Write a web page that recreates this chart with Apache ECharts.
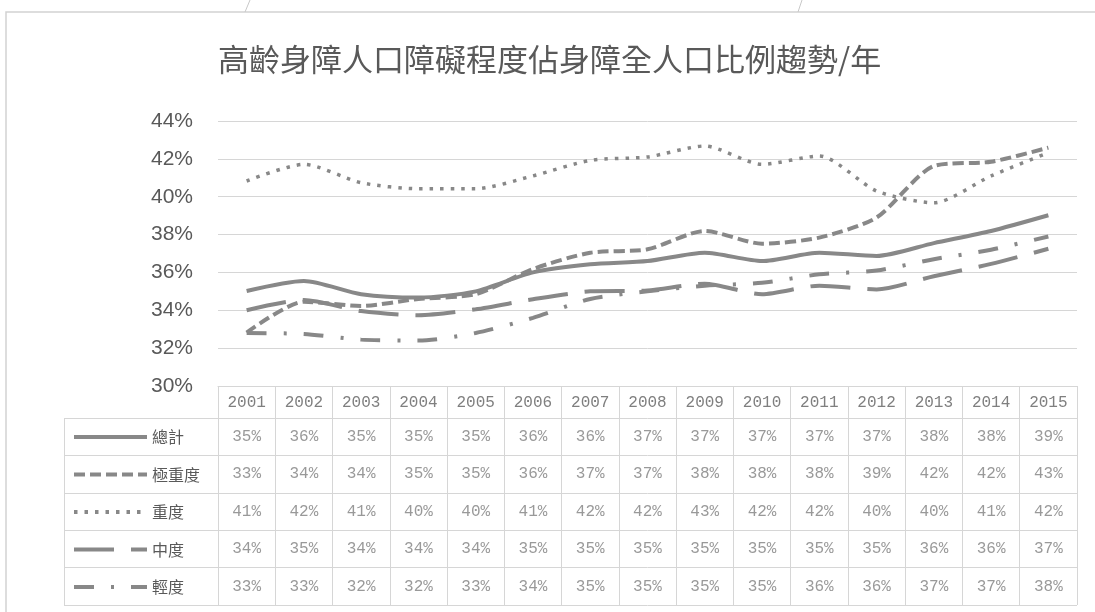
<!DOCTYPE html>
<html>
<head>
<meta charset="utf-8">
<script src="https://cdn.jsdelivr.net/npm/echarts@6/dist/echarts.min.js"></script>
<style>
  html, body { margin: 0; padding: 0; background: #fff; }
  #chart { width: 1095px; height: 612px; }
</style>
</head>
<body>
<div id="chart"></div>
<script>
// 年份 / 類別
var years = ['2001', '2002', '2003', '2004', '2005', '2006', '2007', '2008', '2009', '2010', '2011', '2012', '2013', '2014', '2015']
var seriesNames = ['總計', '極重度', '重度', '中度', '輕度']

// 各障礙程度比例 (%)
var totalData = [35.02, 35.55, 34.85, 34.67, 35.0, 36.0, 36.43, 36.6, 37.04, 36.6, 37.04, 36.87, 37.55, 38.19, 39.02]
var verySevereData = [32.82, 34.45, 34.23, 34.6, 34.85, 36.18, 37.04, 37.22, 38.19, 37.52, 37.84, 38.9, 41.62, 41.85, 42.59]
var severeData = [40.83, 41.71, 40.74, 40.42, 40.42, 41.1, 41.92, 42.1, 42.68, 41.71, 42.15, 40.3, 39.68, 41.1, 42.33]
var moderateData = [34.0, 34.55, 33.96, 33.74, 34.05, 34.58, 35.0, 35.05, 35.4, 34.85, 35.3, 35.1, 35.8, 36.45, 37.25]
var mildData = [32.8, 32.75, 32.45, 32.4, 32.8, 33.6, 34.6, 35.0, 35.3, 35.45, 35.9, 36.1, 36.7, 37.2, 37.9]

var allData = [totalData, verySevereData, severeData, moderateData, mildData]
// 線型: 實線 / 虛線 / 點線 / 長虛線 / 虛點線
var dashTypes = ['solid', [11, 5], [3.5, 7], [40, 17], [20, 17, 3, 17]]

var lineColor = '#888888'
var borderColor = '#d6d6d6'

var chart = echarts.init(document.getElementById('chart'))

// 表格文字
var tableCells = []
allData.forEach(function(arr, row) {
  arr.forEach(function(v, col) {
    tableCells.push([col, row, Math.round(v)])
  })
})

var lineSeries = allData.map(function(arr, i) {
  return {
    name: seriesNames[i],
    type: 'line',
    xAxisIndex: 0,
    yAxisIndex: 0,
    data: arr,
    symbol: 'none',
    smooth: 0.25,
    silent: true,
    lineStyle: {
      color: lineColor,
      width: i === 2 ? 3.5 : 4,
      type: dashTypes[i]
    },
    itemStyle: { color: lineColor }
  }
})

chart.setOption({
  backgroundColor: '#fff',
  animation: false,
  title: {
    text: '高齡身障人口障礙程度佔身障全人口比例趨勢/年',
    left: 218,
    top: 44,
    padding: 0,
    textStyle: {
      fontFamily: 'Noto Sans CJK TC',
      fontSize: 31,
      fontWeight: 'normal',
      color: '#595959'
    }
  },
  graphic: [
    {
      type: 'rect',
      shape: { x: 6, y: 12, width: 1200, height: 700 },
      style: { fill: 'none', stroke: '#d2d2d2', lineWidth: 1.5 },
      silent: true
    },
    {
      type: 'line',
      shape: { x1: 250, y1: 0, x2: 245, y2: 12 },
      style: { stroke: '#c8c8c8', lineWidth: 1 },
      silent: true
    },
    {
      type: 'line',
      shape: { x1: 802, y1: 0, x2: 798, y2: 12 },
      style: { stroke: '#c8c8c8', lineWidth: 1 },
      silent: true
    }
  ],
  legend: {
    orient: 'vertical',
    left: 72,
    top: 429,
    padding: 0,
    itemWidth: 73,
    itemHeight: 16,
    itemGap: 21.5,
    selectedMode: false,
    data: seriesNames,
    itemStyle: { color: 'transparent', borderWidth: 0, opacity: 0 },
    lineStyle: { width: 4 },
    textStyle: {
      fontFamily: 'Noto Sans CJK TC',
      fontSize: 16,
      lineHeight: 16,
      color: '#595959'
    }
  },
  grid: [
    { left: 218, right: 18, top: 121, height: 265 }, // 折線圖
    { left: 218, right: 18, top: 386, height: 32 },  // 表頭(年份)
    { left: 218, right: 18, top: 418, height: 187 }, // 表格內容
    { left: 64, width: 154, top: 418, height: 187 }   // 圖例欄
  ],
  xAxis: [
    {
      gridIndex: 0,
      type: 'category',
      data: years,
      boundaryGap: true,
      axisLine: { show: true, lineStyle: { color: borderColor, width: 1 } },
      axisTick: { show: false },
      axisLabel: { show: false },
      splitLine: { show: false }
    },
    {
      gridIndex: 1,
      type: 'category',
      data: years,
      boundaryGap: true,
      axisLine: { show: false },
      axisTick: { show: false },
      axisLabel: {
        inside: true,
        margin: 7,
        interval: 0,
        fontFamily: 'Liberation Mono',
        fontSize: 16,
        color: '#7f7f7f'
      },
      splitLine: { show: true, interval: 0, lineStyle: { color: borderColor, width: 1 } }
    },
    {
      gridIndex: 2,
      type: 'category',
      data: years,
      boundaryGap: true,
      axisLine: { show: false },
      axisTick: { show: false },
      axisLabel: { show: false },
      splitLine: { show: true, interval: 0, lineStyle: { color: borderColor, width: 1 } }
    },
    {
      gridIndex: 3,
      type: 'category',
      data: [''],
      boundaryGap: true,
      axisLine: { show: false },
      axisTick: { show: false },
      axisLabel: { show: false },
      splitLine: { show: true, interval: 0, lineStyle: { color: borderColor, width: 1 } }
    }
  ],
  yAxis: [
    {
      gridIndex: 0,
      type: 'value',
      min: 30,
      max: 44,
      interval: 2,
      axisLine: { show: false },
      axisTick: { show: false },
      axisLabel: {
        formatter: '{value}%',
        fontFamily: 'Liberation Sans',
        fontSize: 21,
        color: '#595959',
        margin: 25
      },
      splitLine: { show: true, lineStyle: { color: borderColor, width: 1 } }
    },
    {
      gridIndex: 1,
      type: 'value',
      show: false
    },
    {
      gridIndex: 2,
      type: 'category',
      data: seriesNames,
      inverse: true,
      axisLine: { show: false },
      axisTick: { show: false },
      axisLabel: { show: false },
      splitLine: { show: true, interval: 0, lineStyle: { color: borderColor, width: 1 } }
    },
    {
      gridIndex: 3,
      type: 'category',
      data: seriesNames,
      inverse: true,
      axisLine: { show: false },
      axisTick: { show: false },
      axisLabel: { show: false },
      splitLine: { show: true, interval: 0, lineStyle: { color: borderColor, width: 1 } }
    }
  ],
  series: lineSeries.concat([
    {
      name: 'table',
      type: 'scatter',
      xAxisIndex: 2,
      yAxisIndex: 2,
      data: tableCells,
      symbolSize: 1,
      silent: true,
      itemStyle: { color: 'transparent' },
      label: {
        show: true,
        position: 'inside',
        formatter: function(p) {
          return p.value[2] + '%'
        },
        fontFamily: 'Liberation Mono',
        fontSize: 16,
        color: '#7f7f7f'
      }
    }
  ])
})
</script>
</body>
</html>
